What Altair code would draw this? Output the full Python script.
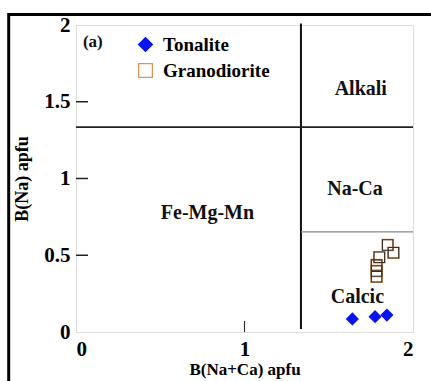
import altair as alt
import pandas as pd

# ---- data ----
tonalite_x = [1.64, 1.775, 1.845]
tonalite_y = [0.085, 0.10, 0.11]
grano_x = [1.850, 1.884, 1.800, 1.784, 1.784, 1.784]
grano_y = [0.567, 0.516, 0.487, 0.436, 0.397, 0.360]

region_names = ["Alkali", "Na-Ca", "Fe-Mg-Mn", "Calcic", "(a)"]
region_x = [1.69, 1.656, 0.78, 1.67, 0.10]
region_y = [1.58, 0.93, 0.775, 0.23, 1.89]
region_size = [20, 20, 20, 20, 17]

y_ticks = [0.5, 1.0, 1.5]
x_ticks = [1.0]

divider_x = 1.335
divider_y = 1.335
calcic_y = 0.652

FONT = "Liberation Serif"

pts = pd.DataFrame({
    "x": tonalite_x + grano_x,
    "y": tonalite_y + grano_y,
    "rock": ["Tonalite"] * len(tonalite_x) + ["Granodiorite"] * len(grano_x),
})
grano = pd.DataFrame({"x": grano_x, "y": grano_y})
regions = pd.DataFrame({"t": region_names, "x": region_x, "y": region_y, "s": region_size})

xs = alt.Scale(domain=[0, 2], nice=False, zero=False)
ys = alt.Scale(domain=[0, 2], nice=False, zero=False)

xax = alt.Axis(values=[0, 1, 2], format="~g", ticks=False, domain=False, grid=False,
               labelFont=FONT, labelFontWeight="bold", labelFontSize=21, labelColor="black",
               labelPadding=6, title="B(Na+Ca) apfu", titleFont=FONT, titleFontWeight="bold",
               titleFontSize=17, titleColor="black", titlePadding=2)
yax = alt.Axis(values=[0, 0.5, 1, 1.5, 2], format="~g", ticks=False, domain=False, grid=False,
               labelFont=FONT, labelFontWeight="bold", labelFontSize=21, labelColor="black",
               labelPadding=6, title="B(Na) apfu", titleFont=FONT, titleFontWeight="bold",
               titleFontSize=18, titleColor="black", titlePadding=12)

leg = alt.Legend(title=None, orient="none", legendX=60, legendY=10,
                 labelFont=FONT, labelFontWeight="bold", labelFontSize=19,
                 labelColor="black", symbolSize=190, rowPadding=6,
                 labelOffset=8, symbolStrokeWidth=1.3)
dom = ["Tonalite", "Granodiorite"]

points = alt.Chart(pts).mark_point(size=120, opacity=1, strokeWidth=1.6).encode(
    x=alt.X("x:Q", scale=xs, axis=xax),
    y=alt.Y("y:Q", scale=ys, axis=yax),
    shape=alt.Shape("rock:N", scale=alt.Scale(domain=dom, range=["diamond", "square"]), legend=leg),
    fill=alt.Fill("rock:N", scale=alt.Scale(domain=dom, range=["#0a14f0", "rgba(0,0,0,0)"]), legend=leg),
    stroke=alt.Stroke("rock:N", scale=alt.Scale(domain=dom, range=["#0a14f0", "#d9955a"]), legend=leg),
)

dark_sq = alt.Chart(grano).mark_point(shape="square", size=110, filled=False,
                                      stroke="#3a3028", strokeWidth=1.1, opacity=1).encode(
    x=alt.X("x:Q", scale=xs), y=alt.Y("y:Q", scale=ys))

vline = alt.Chart(pd.DataFrame({"x": [divider_x], "y": [0.02], "y2": [2.01]})).mark_rule(
    color="#111", strokeWidth=2).encode(x=alt.X("x:Q", scale=xs), y=alt.Y("y:Q", scale=ys), y2="y2:Q")
hline = alt.Chart(pd.DataFrame({"y": [divider_y], "x": [0], "x2": [2]})).mark_rule(
    color="#222", strokeWidth=1.6).encode(x=alt.X("x:Q", scale=xs), x2="x2:Q", y=alt.Y("y:Q", scale=ys))
gline = alt.Chart(pd.DataFrame({"y": [calcic_y], "x": [divider_x], "x2": [2]})).mark_rule(
    color="#888", strokeWidth=1.4).encode(x=alt.X("x:Q", scale=xs), x2="x2:Q", y=alt.Y("y:Q", scale=ys))

ytk = alt.Chart(pd.DataFrame({"y": y_ticks})).mark_rule(color="#222", strokeWidth=1.5).encode(
    y=alt.Y("y:Q", scale=ys), x=alt.value(0), x2=alt.value(12))
xtk = alt.Chart(pd.DataFrame({"x": x_ticks})).mark_rule(color="#333", strokeWidth=1.2).encode(
    x=alt.X("x:Q", scale=xs), y=alt.value(307), y2=alt.value(296))

labels = alt.Chart(regions).mark_text(font=FONT, fontWeight="bold", color="#111").encode(
    x=alt.X("x:Q", scale=xs), y=alt.Y("y:Q", scale=ys), text="t:N",
    size=alt.Size("s:Q", scale=None, legend=None))

# outer frame of the figure panel
frame_top = alt.Chart(pd.DataFrame({"a": [0]})).mark_rule(color="black", strokeWidth=3).encode(
    x=alt.value(-68), x2=alt.value(360), y=alt.value(-10.5))
frame_left = alt.Chart(pd.DataFrame({"a": [0]})).mark_rule(color="black", strokeWidth=3).encode(
    x=alt.value(-67.3), y=alt.value(-12), y2=alt.value(360))

chart = alt.layer(vline, hline, gline, ytk, xtk, labels, points, dark_sq, frame_top, frame_left).properties(
    width=337, height=307,
    autosize=alt.AutoSizeParams(type="none"),
    padding={"left": 76, "top": 25, "right": 18, "bottom": 49},
).configure_view(stroke="#444", strokeWidth=1.6).configure(background="white")

chart.save("out.html", embed_options={"renderer": "svg", "actions": False})
